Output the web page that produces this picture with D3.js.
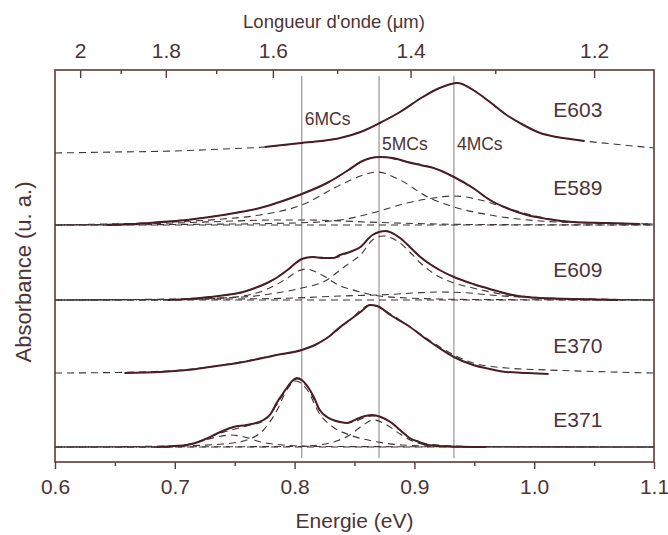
<!DOCTYPE html>
<html>
<head>
<meta charset="utf-8">
<script src="https://cdn.jsdelivr.net/npm/d3@7"></script>
<style>
  body { margin: 0; background: #fff; }
  svg text { font-family: "Liberation Sans", Arial, Helvetica, sans-serif; fill: #4d3434; }
</style>
</head>
<body>
<div id="chart"></div>
<script>
// axes
const energyMajor = [0.6, 0.7, 0.8, 0.9, 1.0, 1.1];
const energyMinor = [0.65, 0.75, 0.85, 0.95, 1.05];
const wlMajor = [2, 1.8, 1.6, 1.4, 1.2];
const wlMinor = [1.9, 1.7, 1.5, 1.3];
// energies (eV) where the 2 um and 1.2 um marks sit on the top axis
const wlCal = [0.621, 1.050];

const mcNames = ['6MCs', '5MCs', '4MCs'];
const mcEnergy = [0.806, 0.8705, 0.933];

const sampleNames = ['E603', 'E589', 'E609', 'E370', 'E371'];
const sampleOffsets = [3.06, 2.37, 1.62, 0.89, 0.15];

// spectra: [energy eV, absorbance above offset]
const dataE603 = [[0.775,0.09],[0.790,0.11],[0.806,0.13],[0.822,0.15],[0.838,0.18],[0.855,0.24],[0.871,0.33],[0.888,0.44],[0.907,0.59],[0.921,0.68],[0.936,0.73],[0.949,0.66],[0.963,0.54],[0.977,0.41],[0.991,0.31],[1.005,0.23],[1.019,0.19],[1.030,0.17],[1.042,0.15]];
const fitE603 = [[0.60,0.03],[0.65,0.04],[0.70,0.05],[0.74,0.07],[0.775,0.09],[0.806,0.13],[0.838,0.18],[0.855,0.24],[0.871,0.33],[0.888,0.44],[0.907,0.59],[0.921,0.68],[0.936,0.73],[0.949,0.66],[0.963,0.54],[0.977,0.41],[0.991,0.31],[1.005,0.23],[1.019,0.19],[1.042,0.15],[1.07,0.115],[1.10,0.08]];

const dataE589 = [[0.643,0.00],[0.665,0.01],[0.688,0.03],[0.710,0.05],[0.729,0.08],[0.750,0.12],[0.771,0.17],[0.790,0.24],[0.806,0.31],[0.827,0.42],[0.845,0.55],[0.855,0.63],[0.871,0.68],[0.882,0.67],[0.894,0.63],[0.905,0.60],[0.916,0.57],[0.933,0.48],[0.949,0.37],[0.963,0.25],[0.977,0.17],[0.994,0.10],[1.011,0.06],[1.032,0.03],[1.061,0.02],[1.088,0.01]];
const fitE589 = [[0.60,0.00],[0.643,0.00],[0.688,0.03],[0.729,0.08],[0.771,0.17],[0.806,0.31],[0.827,0.42],[0.845,0.55],[0.855,0.63],[0.871,0.68],[0.894,0.63],[0.916,0.57],[0.933,0.48],[0.949,0.37],[0.963,0.25],[0.977,0.17],[0.994,0.10],[1.011,0.06],[1.032,0.03],[1.061,0.02],[1.10,0.01]];
const c5E589 = [[0.60,0.00],[0.643,0.01],[0.70,0.03],[0.74,0.06],[0.771,0.10],[0.806,0.20],[0.838,0.40],[0.855,0.49],[0.869,0.53],[0.888,0.45],[0.911,0.28],[0.933,0.18],[0.963,0.10],[1.005,0.04],[1.05,0.02],[1.10,0.01]];
const c4E589 = [[0.60,0.00],[0.70,0.005],[0.80,0.02],[0.838,0.05],[0.865,0.12],[0.894,0.22],[0.916,0.27],[0.933,0.29],[0.955,0.25],[0.977,0.17],[1.005,0.08],[1.032,0.03],[1.06,0.015],[1.10,0.005]];
const c6E589 = [[0.60,0.00],[0.70,0.02],[0.75,0.04],[0.78,0.05],[0.806,0.05],[0.83,0.045],[0.86,0.03],[0.90,0.015],[0.95,0.005],[1.10,0.00]];

const dataE609 = [[0.694,0.00],[0.712,0.01],[0.729,0.03],[0.743,0.05],[0.757,0.08],[0.767,0.12],[0.777,0.17],[0.786,0.23],[0.794,0.30],[0.800,0.36],[0.806,0.41],[0.815,0.43],[0.824,0.42],[0.832,0.42],[0.838,0.45],[0.846,0.48],[0.855,0.53],[0.865,0.65],[0.876,0.69],[0.888,0.62],[0.897,0.52],[0.905,0.43],[0.921,0.30],[0.933,0.23],[0.949,0.16],[0.966,0.10],[0.982,0.05],[1.005,0.02],[1.032,0.01],[1.07,0.00]];
const fitE609 = [[0.60,0.00],[0.694,0.00],[0.729,0.03],[0.757,0.08],[0.777,0.17],[0.794,0.30],[0.806,0.41],[0.815,0.43],[0.832,0.42],[0.846,0.48],[0.855,0.53],[0.865,0.65],[0.876,0.69],[0.888,0.62],[0.905,0.43],[0.921,0.30],[0.949,0.16],[0.982,0.05],[1.032,0.01],[1.10,0.00]];
const c6E609 = [[0.60,0.00],[0.70,0.005],[0.74,0.02],[0.757,0.04],[0.771,0.08],[0.784,0.15],[0.794,0.22],[0.803,0.29],[0.810,0.31],[0.818,0.28],[0.827,0.22],[0.838,0.14],[0.846,0.11],[0.855,0.08],[0.865,0.05],[0.894,0.02],[0.95,0.005],[1.10,0.00]];
const c5E609 = [[0.60,0.00],[0.70,0.01],[0.757,0.03],[0.785,0.07],[0.806,0.12],[0.827,0.20],[0.838,0.30],[0.846,0.37],[0.855,0.45],[0.865,0.60],[0.874,0.64],[0.888,0.57],[0.897,0.47],[0.905,0.37],[0.921,0.23],[0.933,0.17],[0.949,0.12],[0.977,0.05],[1.005,0.02],[1.05,0.01],[1.10,0.00]];
const c4E609 = [[0.60,0.00],[0.75,0.01],[0.80,0.02],[0.838,0.04],[0.87,0.05],[0.90,0.07],[0.921,0.08],[0.94,0.075],[0.963,0.05],[1.005,0.02],[1.05,0.005],[1.10,0.00]];

const dataE370 = [[0.658,0.00],[0.688,0.01],[0.710,0.03],[0.729,0.06],[0.757,0.11],[0.785,0.18],[0.806,0.23],[0.817,0.28],[0.827,0.35],[0.838,0.46],[0.846,0.53],[0.855,0.61],[0.863,0.68],[0.869,0.67],[0.880,0.58],[0.894,0.48],[0.911,0.33],[0.922,0.24],[0.933,0.16],[0.949,0.08],[0.963,0.04],[0.977,0.01],[0.994,0.00],[1.012,-0.01]];
const fitE370 = [[0.60,0.00],[0.65,0.005],[0.70,0.025],[0.75,0.10],[0.785,0.18],[0.806,0.23],[0.827,0.35],[0.846,0.53],[0.863,0.68],[0.880,0.59],[0.894,0.48],[0.911,0.34],[0.933,0.18],[0.949,0.10],[0.977,0.05],[1.012,0.03],[1.05,0.015],[1.10,0.00]];

const dataE371 = [[0.685,0.00],[0.700,0.01],[0.710,0.02],[0.724,0.07],[0.738,0.15],[0.749,0.20],[0.760,0.22],[0.774,0.27],[0.780,0.33],[0.785,0.44],[0.790,0.53],[0.794,0.60],[0.798,0.66],[0.802,0.69],[0.806,0.67],[0.810,0.62],[0.816,0.50],[0.821,0.37],[0.827,0.30],[0.832,0.27],[0.838,0.25],[0.844,0.24],[0.852,0.28],[0.859,0.31],[0.865,0.32],[0.872,0.30],[0.880,0.25],[0.888,0.17],[0.896,0.09],[0.904,0.05],[0.911,0.02],[0.93,0.005],[0.96,0.00]];
const fitE371 = [[0.60,0.00],[0.685,0.00],[0.710,0.02],[0.738,0.14],[0.760,0.21],[0.774,0.26],[0.785,0.42],[0.794,0.59],[0.802,0.68],[0.810,0.61],[0.821,0.37],[0.832,0.27],[0.844,0.24],[0.865,0.31],[0.880,0.25],[0.896,0.09],[0.911,0.03],[0.95,0.005],[1.10,0.00]];
const c1E371 = [[0.60,0.00],[0.68,0.00],[0.70,0.01],[0.72,0.05],[0.735,0.10],[0.747,0.12],[0.758,0.10],[0.772,0.05],[0.79,0.02],[0.82,0.005],[1.10,0.00]];
const c2E371 = [[0.60,0.00],[0.70,0.01],[0.74,0.03],[0.76,0.07],[0.774,0.17],[0.785,0.36],[0.794,0.58],[0.801,0.66],[0.810,0.58],[0.821,0.33],[0.832,0.20],[0.846,0.12],[0.865,0.06],[0.89,0.02],[0.93,0.005],[1.10,0.00]];
const c3E371 = [[0.60,0.00],[0.80,0.005],[0.82,0.02],[0.835,0.06],[0.846,0.12],[0.855,0.20],[0.866,0.27],[0.877,0.22],[0.888,0.13],[0.90,0.05],[0.915,0.015],[0.94,0.003],[1.10,0.00]];

// annotation levels (a.u.)
const labelLevels = [3.45, 2.67, 1.85, 1.09, 0.35];
const labelEnergy = 1.016;
const mcLabelLevels = [3.37, 3.12, 3.12];

const solids = [dataE603, dataE589, dataE609, dataE370, dataE371];
const dashed = [
  [fitE603],
  [fitE589, c5E589, c4E589, c6E589],
  [fitE609, c6E609, c5E609, c4E609],
  [fitE370],
  [fitE371, c1E371, c2E371, c3E371]
];

const width = 668, height = 535;
const margin = { top: 70, right: 14, bottom: 73, left: 55 };
const ink = '#4d3434';

const svg = d3.select('#chart').append('svg')
  .attr('width', width).attr('height', height);

const x = d3.scaleLinear().domain([0.6, 1.1]).range([margin.left, width - margin.right]);
const y = d3.scaleLinear().domain([0, 3.92]).range([height - margin.bottom, margin.top]);
const xTop = d3.scaleLinear().domain([1 / 2, 1 / 1.2]).range([x(wlCal[0]), x(wlCal[1])]);

svg.append('defs').append('clipPath').attr('id', 'clip')
  .append('rect')
  .attr('x', margin.left).attr('y', margin.top)
  .attr('width', width - margin.left - margin.right)
  .attr('height', height - margin.top - margin.bottom);

const plot = svg.append('g').attr('clip-path', 'url(#clip)');

// MC guide lines
plot.selectAll('line.mc')
  .data(mcEnergy)
  .enter()
  .append('line')
  .attr('class', 'mc')
  .attr('x1', d => x(d)).attr('x2', d => x(d))
  .attr('y1', y(3.86)).attr('y2', y(0.04))
  .attr('stroke', '#8c7b7b')
  .attr('stroke-width', 1);

const line = off => d3.line()
  .x(d => x(d[0]))
  .y(d => y(d[1] + off))
  .curve(d3.curveMonotoneX);

// baselines + fits
sampleOffsets.forEach((off, i) => {
  if (dashed[i].length > 1) {
    plot.append('path')
      .attr('d', line(off)([[0.6, 0], [1.1, 0]]))
      .attr('fill', 'none')
      .attr('stroke', '#3e3434')
      .attr('stroke-width', 1.1)
      .attr('stroke-dasharray', '7,5');
  }
  dashed[i].forEach((s, j) => {
    plot.append('path')
      .attr('d', line(off)(s))
      .attr('fill', 'none')
      .attr('stroke', '#3e3434')
      .attr('stroke-width', 1.1)
      .attr('stroke-dasharray', '7,5')
      .attr('stroke-dashoffset', j * 3);
  });
});

// measured spectra
plot.selectAll('path.spectre')
  .data(solids)
  .enter()
  .append('path')
  .attr('class', 'spectre')
  .attr('d', (d, i) => line(sampleOffsets[i])(d))
  .attr('fill', 'none')
  .attr('stroke', '#4a1d24')
  .attr('stroke-width', 2)
  .attr('stroke-linejoin', 'round');

// sample names
svg.selectAll('text.sample')
  .data(sampleNames)
  .enter()
  .append('text')
  .attr('class', 'sample')
  .attr('x', x(labelEnergy))
  .attr('y', (d, i) => y(labelLevels[i]))
  .attr('font-size', 21)
  .text(d => d);

// MC labels
svg.selectAll('text.mclab')
  .data(mcNames)
  .enter()
  .append('text')
  .attr('class', 'mclab')
  .attr('x', (d, i) => x(mcEnergy[i]) + 3)
  .attr('y', (d, i) => y(mcLabelLevels[i]))
  .attr('font-size', 17.5)
  .text(d => d);

// frame
svg.append('rect')
  .attr('x', margin.left).attr('y', margin.top)
  .attr('width', width - margin.left - margin.right)
  .attr('height', height - margin.top - margin.bottom)
  .attr('fill', 'none')
  .attr('stroke', '#5a3a3a')
  .attr('stroke-width', 1.6);

// bottom axis
svg.append('g')
  .attr('transform', `translate(0,${height - margin.bottom})`)
  .call(d3.axisBottom(x).tickValues(energyMajor).tickSize(7).tickPadding(10).tickFormat(d3.format('.1f')));
svg.append('g')
  .attr('transform', `translate(0,${height - margin.bottom})`)
  .call(d3.axisBottom(x).tickValues(energyMinor).tickSize(4).tickFormat(''));

// top axis (wavelength)
svg.append('g')
  .attr('transform', `translate(0,${margin.top})`)
  .call(d3.axisTop(xTop).tickValues(wlMajor.map(l => 1 / l)).tickSize(-8).tickPadding(12)
    .tickFormat(d => String(Math.round(10 / d) / 10)));
svg.append('g')
  .attr('transform', `translate(0,${margin.top})`)
  .call(d3.axisTop(xTop).tickValues(wlMinor.map(l => 1 / l)).tickSize(-4).tickFormat(''));

svg.selectAll('.domain').remove();
svg.selectAll('.tick line').attr('stroke', '#5a3a3a').attr('stroke-width', 1.4);
svg.selectAll('.tick text')
  .attr('font-size', 21)
  .attr('font-family', '"Liberation Sans", Arial, sans-serif')
  .style('fill', ink);

// titles
svg.append('text')
  .attr('x', (margin.left + width - margin.right) / 2)
  .attr('y', 528)
  .attr('text-anchor', 'middle')
  .attr('font-size', 21)
  .text('Energie (eV)');

svg.append('text')
  .attr('x', 334)
  .attr('y', 28)
  .attr('text-anchor', 'middle')
  .attr('font-size', 18.5)
  .text("Longueur d'onde (\u03bcm)");

svg.append('text')
  .attr('transform', 'translate(31,272) rotate(-90)')
  .attr('text-anchor', 'middle')
  .attr('font-size', 22)
  .text('Absorbance (u. a.)');
</script>
</body>
</html>
